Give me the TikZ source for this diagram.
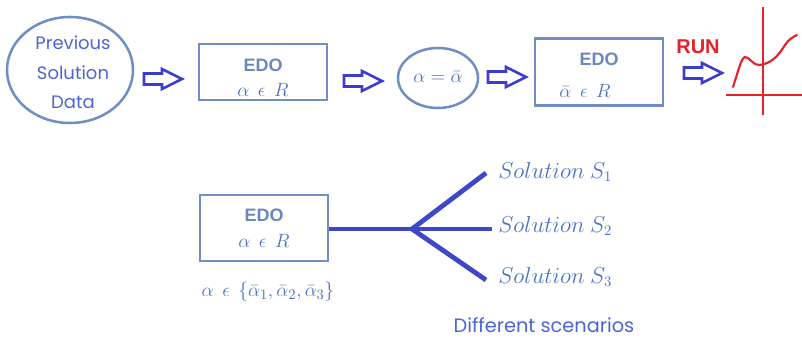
\documentclass[tikz,border=0pt]{standalone}
\usepackage{fontspec}
\setmainfont{Poppins}
\newfontfamily\arialf{Liberation Sans}
\usetikzlibrary{shapes.geometric}
\definecolor{boxc}{HTML}{6F8FC4}
\definecolor{edoc}{HTML}{6A88BC}
\definecolor{mathc}{HTML}{4A72C4}
\definecolor{comc}{HTML}{4A66D2}
\definecolor{arrc}{HTML}{3C3CCF}
\definecolor{linec}{HTML}{3E48C6}
\definecolor{runc}{HTML}{E8202A}
\tikzset{
  ebox/.style={draw=boxc, line width=2.2pt, minimum width=96pt, minimum height=42pt, inner sep=0pt},
  eell/.style={ellipse, draw=boxc, line width=1.9pt, inner sep=0pt},
  edotxt/.style={font=\arialf\bfseries\fontsize{13.5}{16}\selectfont, text=edoc, inner sep=0pt},
  mtxt/.style={font=\fontsize{15}{18}\selectfont, text=mathc, inner sep=0pt},
  stxt/.style={font=\fontsize{16}{18}\selectfont, text=mathc, inner sep=0pt, anchor=west},
  ctxt/.style={font=\fontsize{13.5}{16}\selectfont, text=comc, inner sep=0pt},
  branch/.style={draw=linec, line width=3.6pt},
  barrow/.pic={
    \draw[arrc, line width=2pt, line join=miter, fill=white]
      (-19,-5.5) -- (-1,-5.5) -- (-1,-10) -- (19,0) -- (-1,10) -- (-1,5.5) -- (-19,5.5) -- cycle;
  },
}
\begin{document}
\begin{tikzpicture}[x=0.75pt,y=-0.75pt]
\useasboundingbox[fill=white] (0,0) rectangle (802,338);
% top row
\node[eell, minimum width=94.5pt, minimum height=79.5pt] (prev) at (70,70) {};
\node[ctxt] (prev1) at (73,43) {Previous};
\node[ctxt] (prev2) at (73,73) {Solution};
\node[ctxt] (prev3) at (73,102) {Data};
\pic (a1) at (163,79) {barrow};
\node[ebox] (edo1) at (263,72) {};
\node[edotxt] (edo1t) at (263,65) {EDO};
\node[mtxt] (edo1m) at (263,90) {$\alpha\ \,\epsilon\ \,R$};
\pic (a2) at (363,81) {barrow};
\node[eell, minimum width=60pt, minimum height=45pt] (eq) at (438,78) {};
\node[mtxt] (eqt) at (438,77) {$\alpha=\bar{\alpha}$};
\pic (a3) at (507,77) {barrow};
\node[ebox, minimum height=50pt] (edo2) at (599,72) {};
\node[edotxt] (edo2t) at (599,59) {EDO};
\node[mtxt] (edo2m) at (585,91) {$\bar{\alpha}\ \,\epsilon\ \,R$};
\node[font=\arialf\bfseries\fontsize{15}{18}\selectfont, text=runc, inner sep=0pt] (run) at (698,47) {RUN};
\pic (a4) at (703,73) {barrow};
% red sketch
\draw[runc, line width=1.6pt] (763,7) -- (763,115);
\draw[runc, line width=1.6pt] (726,95) -- (802,95);
\draw[runc, line width=1.6pt, line cap=round, line join=round]
  (733,87) .. controls (738,72) and (741,58) .. (745,57)
  .. controls (750,57) and (753,66) .. (760,65)
  .. controls (772,63) and (778,56) .. (785,45)
  .. controls (789,39) and (793,37) .. (797,35);
% bottom
\node[ebox, minimum height=49.5pt] (edo3) at (264,228) {};
\node[edotxt] (edo3t) at (264,215) {EDO};
\node[mtxt] (edo3m) at (264,241) {$\alpha\ \,\epsilon\ \,R$};
\coordinate (br) at (412,229);
\coordinate (e1) at (486,173);
\coordinate (e2) at (492,229);
\coordinate (e3) at (486,280);
\draw[branch] (edo3.east |- br) -- (br);
\draw[branch] (br) -- (e1);
\draw[branch] (br) -- (e2);
\draw[branch] (br) -- (e3);
\node[stxt] (s1) at (498,172) {$Solution\ S_1$};
\node[stxt] (s2) at (498,226) {$Solution\ S_2$};
\node[stxt] (s3) at (498,277) {$Solution\ S_3$};
\node[mtxt] (set) at (268,292) {$\alpha\ \,\epsilon\ \,\{\bar{\alpha}_1,\bar{\alpha}_2,\bar{\alpha}_3\}$};
\node[ctxt, font=\fontsize{14.5}{17}\selectfont] (diff) at (544,325) {Different scenarios};
\end{tikzpicture}
\end{document}
